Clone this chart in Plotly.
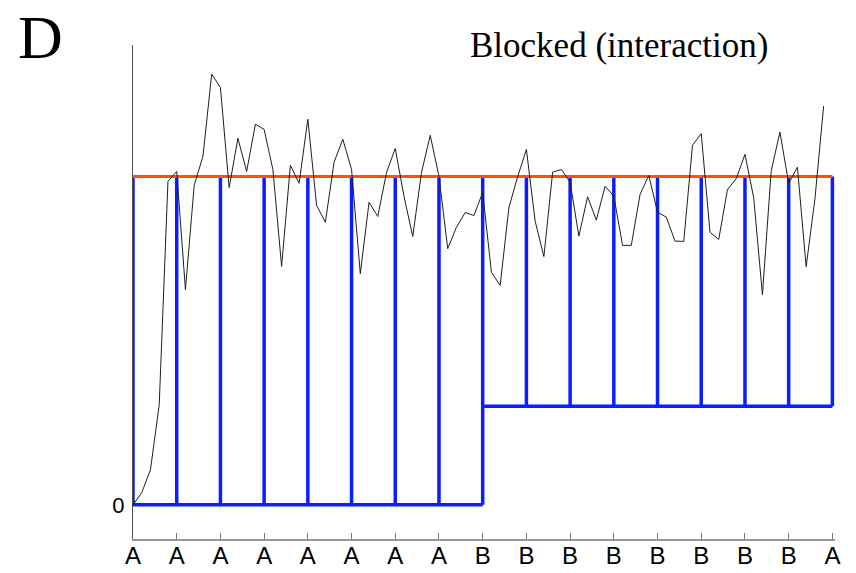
import plotly.graph_objects as go

# ---- data ----
phase_labels = ["A"] * 8 + ["B"] * 8 + ["A"]
tick_pos = list(range(17))
criterion = 1.0
baseline_A = 0.0
baseline_B = 0.30
switch_at = 8

# black response curve, 5 samples per block
resp_x = [i * 0.2 for i in range(80)]
resp_y = [
    0.000, 0.037, 0.107, 0.305, 0.985, 1.015, 0.655, 0.973, 1.061, 1.311,
    1.271, 0.966, 1.116, 1.015, 1.159, 1.143, 1.021, 0.726, 1.034, 0.979,
    1.174, 0.912, 0.860, 1.043, 1.113, 1.021, 0.704, 0.921, 0.878, 1.012,
    1.085, 0.939, 0.817, 1.012, 1.125, 1.000, 0.780, 0.845, 0.890, 0.881,
    0.951, 0.708, 0.668, 0.905, 0.999, 1.082, 0.864, 0.756, 1.013, 1.021,
    0.983, 0.818, 0.938, 0.867, 0.970, 0.940, 0.790, 0.790, 0.945, 1.003,
    0.891, 0.876, 0.803, 0.802, 1.095, 1.130, 0.830, 0.808, 0.960, 0.993,
    1.067, 0.935, 0.640, 1.016, 1.135, 0.979, 1.028, 0.725, 0.930, 1.214,
]

# ---- build blue block outline ----
bx, by = [], []
for p in tick_pos:
    base = baseline_A if p <= switch_at else baseline_B
    bx += [p, p, None]
    by += [base, criterion, None]
bx += [tick_pos[0], switch_at, None, switch_at, tick_pos[-1], None]
by += [baseline_A, baseline_A, None, baseline_B, baseline_B, None]

fig = go.Figure()
fig.add_trace(go.Scatter(x=bx, y=by, mode="lines",
                         line=dict(color="rgb(10,30,255)", width=3.5),
                         hoverinfo="skip", showlegend=False))
fig.add_trace(go.Scatter(x=[tick_pos[0], tick_pos[-1]], y=[criterion, criterion],
                         mode="lines", line=dict(color="rgb(255,80,10)", width=3),
                         hoverinfo="skip", showlegend=False))
fig.add_trace(go.Scatter(x=resp_x, y=resp_y, mode="lines",
                         line=dict(color="rgb(30,30,30)", width=1),
                         hoverinfo="skip", showlegend=False))

W, H = 856, 573
L, R, T, B = 133, 21, 45, 34
pw, ph = W - L - R, H - T - B

def px(x):
    return (x - L) / pw

def py(y):
    return (H - B - y) / ph

fig.update_layout(
    width=W, height=H,
    margin=dict(l=L, r=R, t=T, b=B, autoexpand=False),
    paper_bgcolor="white", plot_bgcolor="white",
    xaxis=dict(range=[0, 16.06], tickvals=tick_pos, ticktext=phase_labels,
               automargin=False, ticklabelstandoff=-6,
               showgrid=False, zeroline=False, showline=True,
               linecolor="rgb(150,150,150)", linewidth=2,
               ticks="inside", ticklen=6, tickcolor="rgb(120,120,120)", tickwidth=1,
               tickfont=dict(family="Liberation Sans", size=24, color="black")),
    yaxis=dict(range=[-0.104, 1.40], tickvals=[0], ticktext=["0"],
               automargin=False, ticklabelstandoff=3,
               showgrid=False, zeroline=False, showline=True,
               linecolor="rgb(80,80,80)", linewidth=1, ticks="",
               tickfont=dict(family="Liberation Sans", size=22, color="black")),
    annotations=[
        dict(text="D", x=px(40), y=py(37), xref="paper", yref="paper",
             xanchor="center", yanchor="middle", showarrow=False,
             font=dict(family="Liberation Serif", size=62, color="black")),
        dict(text="Blocked (interaction)", x=px(619), y=py(45), xref="paper", yref="paper",
             xanchor="center", yanchor="middle", showarrow=False,
             font=dict(family="Liberation Serif", size=35, color="black")),
    ],
)

fig.write_html("out.html")
